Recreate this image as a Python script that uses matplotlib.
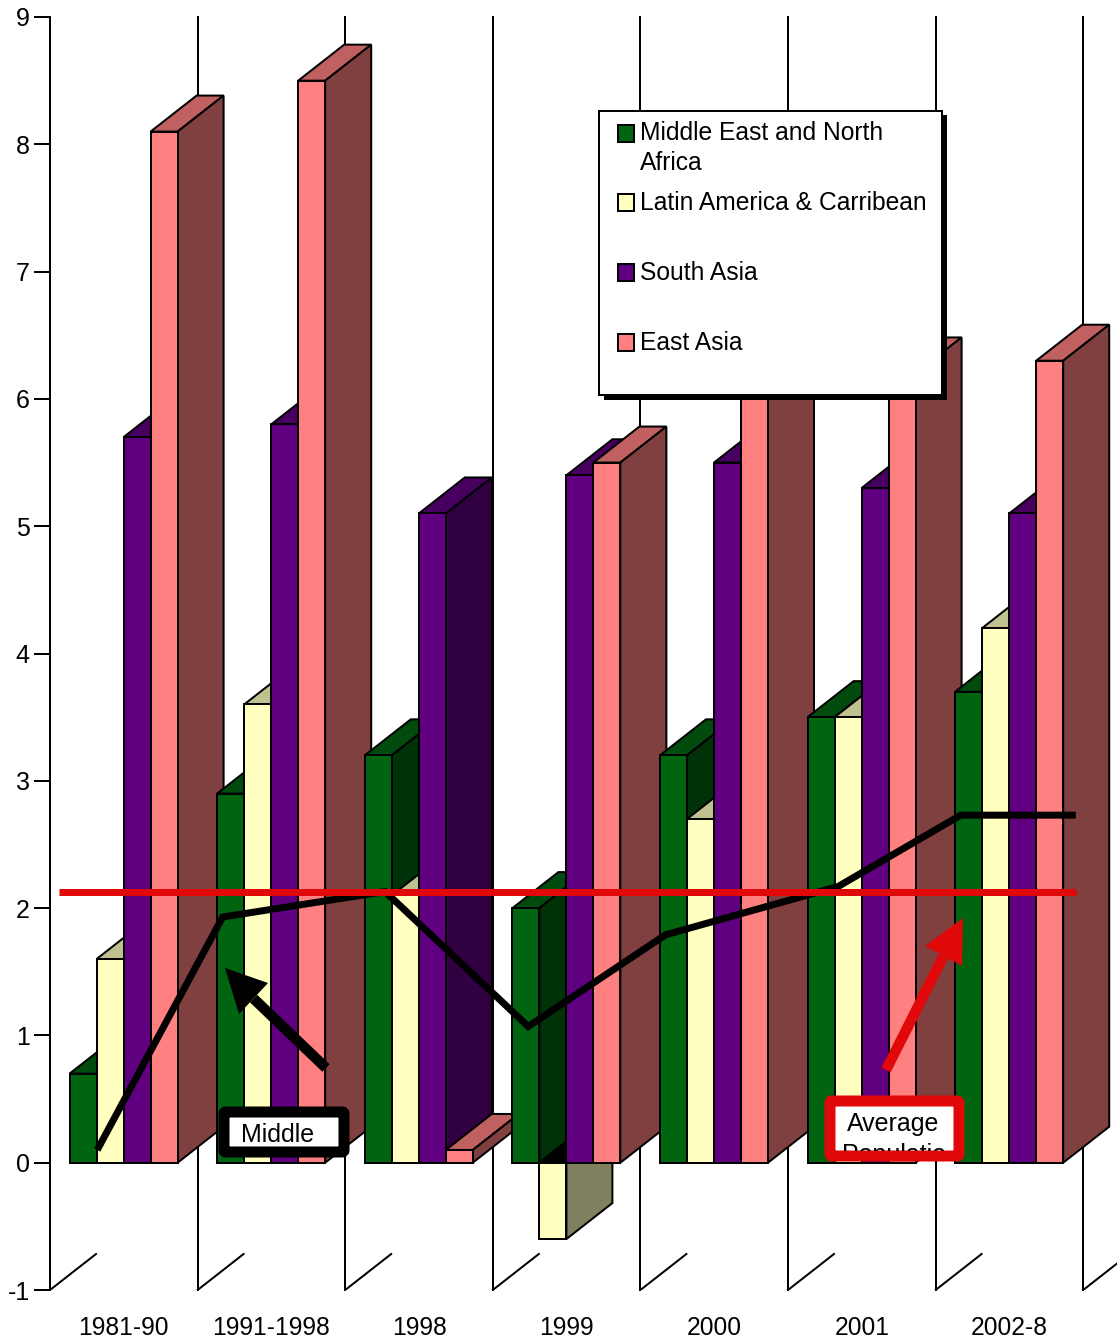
import matplotlib
matplotlib.use('Agg')
import matplotlib.pyplot as plt
from matplotlib.patches import Polygon, Rectangle, FancyBboxPatch

plt.rcParams['font.family'] = ['Liberation Sans', 'DejaVu Sans']

# Chart data
categories = ['1981-90', '1991-1998', '1998', '1999', '2000', '2001', '2002-8']
series_names = ['Middle East and North', 'Latin America & Carribean', 'South Asia', 'East Asia']
middle_east = [0.7, 2.9, 3.2, 2.0, 3.2, 3.5, 3.7]
latin_america = [1.6, 3.6, 2.1, -0.6, 2.7, 3.5, 4.2]
south_asia = [5.7, 5.8, 5.1, 5.4, 5.5, 5.3, 5.1]
east_asia = [8.1, 8.5, 0.1, 5.5, 6.5, 6.2, 6.3]
y_ticks = [-1, 0, 1, 2, 3, 4, 5, 6, 7, 8, 9]

# Overlay lines, x in category units
middle_x = [0.32, 1.17, 2.27, 3.24, 4.17, 5.34, 6.17, 6.95]
middle_y = [0.1, 1.93, 2.13, 1.07, 1.79, 2.17, 2.73, 2.73]
average_x = [0.06, 6.95]
average_y = [2.13, 2.13]

colors = ['#006411', '#FFFFC0', '#600080', '#FF8080']
side_colors = ['#003208', '#808060', '#300040', '#804040']
top_colors = ['#004B0D', '#C0C090', '#480060', '#C06060']

W, H = 1117, 1340
cat_px = 147.6
fig = plt.figure(figsize=(W / 100, H / 100), dpi=100)
ax = fig.add_axes([50 / W, 1 - 1290 / H, (W - 50) / W, (1290 - 17) / H])
ax.set_xlim(0, (W - 50) / cat_px)
ax.set_ylim(-1, 9)

px = 0.72  # one pixel in points
bar_w = 27 / cat_px
offset = 19.6 / cat_px
dx = 46 / cat_px
dy = 36 / 127.3
edge = 2 * px
label_size = 17.75

# back lines and floor ticks
for k in range(len(categories) + 1):
    if k > 0:
        ax.plot([k, k], [-1, 9], color='black', lw=edge, zorder=1, clip_on=False)
    ax.plot([k, k + dx], [-1, -1 + dy], color='black', lw=edge, zorder=1)

# bars, painted left to right so the nearer ones cover the sides
z = 2
all_series = [middle_east, latin_america, south_asia, east_asia]
for c in range(len(categories)):
    for s, values in enumerate(all_series):
        v = values[c]
        x = c + offset + s * bar_w
        hi = max(v, 0)
        lo = min(v, 0)
        top_c = 'black' if v < 0 else top_colors[s]
        ax.add_patch(Polygon([(x, hi), (x + bar_w, hi), (x + bar_w + dx, hi + dy), (x + dx, hi + dy)],
                             facecolor=top_c, edgecolor='black', lw=edge, zorder=z))
        ax.add_patch(Polygon([(x + bar_w, lo), (x + bar_w + dx, lo + dy), (x + bar_w + dx, hi + dy), (x + bar_w, hi)],
                             facecolor=side_colors[s], edgecolor='black', lw=edge, zorder=z))
        ax.bar(x, v, bar_w, align='edge', color=colors[s], edgecolor='black', linewidth=edge, zorder=z + 0.5)
        z += 1

# average lines
ax.plot(middle_x, middle_y, color='black', lw=7 * px, solid_joinstyle='miter',
        solid_capstyle='butt', zorder=200)
ax.plot(average_x, average_y, color='#E00808', lw=7 * px, solid_capstyle='butt', zorder=201)

for side in ['top', 'right', 'bottom']:
    ax.spines[side].set_visible(False)
ax.spines['left'].set_linewidth(2 * px)
ax.spines['left'].set_zorder(300)
ax.set_yticks(y_ticks)
ax.set_yticklabels([str(t) for t in y_ticks])
ax.tick_params(axis='y', length=16 * px, width=2 * px, pad=3, labelsize=18)
ax.set_xticks([k + 0.5 for k in range(len(categories))])
ax.set_xticklabels(categories)
ax.tick_params(axis='x', length=0, pad=19, labelsize=label_size)
ax.patch.set_visible(False)

# overlay in pixel coordinates for the drawn shapes
ov = fig.add_axes([0, 0, 1, 1], zorder=10)
ov.set_xlim(0, W)
ov.set_ylim(H, 0)
ov.axis('off')

# legend box
ov.add_patch(Rectangle((604, 115), 343, 285, facecolor='black', edgecolor='none', zorder=1))
ov.add_patch(Rectangle((599, 111), 343, 284, facecolor='white', edgecolor='black', lw=edge, zorder=2))
swatch_y = [133, 202.5, 272.5, 342.5]
text_y = [132, 201.5, 272, 341.5]
for s, name in enumerate(series_names):
    ov.add_patch(Rectangle((618, swatch_y[s] - 8.5), 16, 17, facecolor=colors[s], edgecolor='black',
                           lw=edge, zorder=3))
    ov.text(640, text_y[s] + 1.5, name, fontsize=label_size, va='center', ha='left', zorder=3)
ov.text(640, 162.5, 'Africa', fontsize=label_size, va='center', ha='left', zorder=3)


def callout(x0, y0, x1, y1, color):
    ov.add_patch(FancyBboxPatch((x0, y0), x1 - x0, y1 - y0, boxstyle='round,pad=0,rounding_size=2',
                                facecolor='white', edgecolor=color, lw=11 * px, zorder=5))


def arrow(start, tip, b1, b2, color):
    mx = (b1[0] + b2[0]) / 2
    my = (b1[1] + b2[1]) / 2
    ov.plot([start[0], mx], [start[1], my], color=color, lw=10.5 * px, solid_capstyle='butt', zorder=4)
    ov.add_patch(Polygon([tip, b1, b2], facecolor=color, edgecolor='none', zorder=4))


# black callout
arrow((326, 1068), (225, 968), (268, 983), (239, 1014), 'black')
callout(224, 1112, 344, 1152, 'black')
ov.text(241, 1135, 'Middle', fontsize=18, va='center', ha='left', zorder=6)

# red callout
arrow((886, 1070), (963, 918), (925, 946), (962, 966), '#E00808')
callout(830, 1101, 959, 1156, '#E00808')
clip = Rectangle((835, 1106), 119, 45, transform=ov.transData)
ov.text(893.5, 1124, 'Average', fontsize=18, va='center', ha='center', zorder=6)
t = ov.text(893.5, 1155, 'Populatio', fontsize=18, va='center', ha='center', zorder=6)
t.set_clip_on(True)
t.set_clip_path(clip)

fig.savefig('out.png', dpi=100)
